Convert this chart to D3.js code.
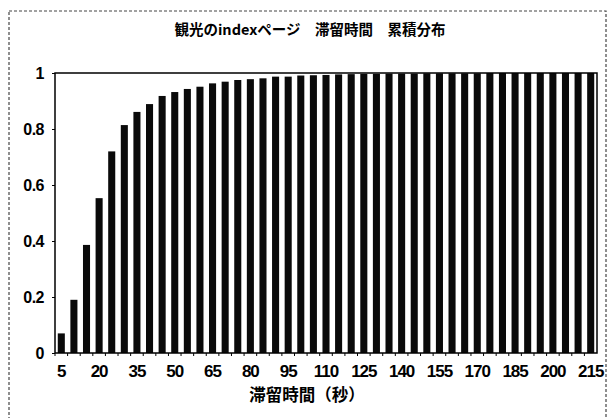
<!DOCTYPE html>
<html><head><meta charset="utf-8">
<script src="https://cdn.jsdelivr.net/npm/d3@7"></script>
<style>
body{margin:0;background:#fff;}
text{font-family:"Noto Sans CJK JP","Liberation Sans",sans-serif;}
</style></head>
<body><svg id="c" width="610" height="418"></svg>
<script>
const titleText = "観光のindexページ　滞留時間　累積分布";
const xTitle = "滞留時間（秒）";
const categories = [5,10,15,20,25,30,35,40,45,50,55,60,65,70,75,80,85,90,95,100,105,110,115,120,125,130,135,140,145,150,155,160,165,170,175,180,185,190,195,200,205,210,215];
const values = [0.07,0.19,0.386,0.553,0.72,0.814,0.861,0.889,0.918,0.932,0.943,0.951,0.963,0.969,0.975,0.978,0.981,0.987,0.987,0.991,0.992,0.993,0.995,0.996,0.997,0.997,0.998,0.998,0.998,0.999,0.999,0.999,0.999,0.999,1,1,1,1,1,1,1,1,1];
const xTickLabels = [5,20,35,50,65,80,95,110,125,140,155,170,185,200,215];
const yTicks = [0,0.2,0.4,0.6,0.8,1];

const svg = d3.select("#c");
const m = {l:55, r:597, t:73, b:353};

// outer dashed border
svg.append("rect").attr("x",9).attr("y",11).attr("width",597).attr("height",430)
  .attr("fill","none").attr("stroke","#444").attr("stroke-width",1.2).attr("stroke-dasharray","3,2");

const x = d3.scaleBand().domain(categories).range([m.l, m.r]).paddingInner(0.44).paddingOuter(0.22);
const y = d3.scaleLinear().domain([0,1]).range([m.b, m.t]);

svg.append("g").selectAll("rect").data(categories).join("rect")
  .attr("x", d=>x(d)).attr("width", x.bandwidth())
  .attr("y", (d,i)=>y(values[i])).attr("height",(d,i)=>y(0)-y(values[i]))
  .attr("fill","#0a0a0a");

// plot frame
svg.append("rect").attr("x",m.l).attr("y",m.t).attr("width",m.r-m.l).attr("height",m.b-m.t)
  .attr("fill","none").attr("stroke","#000").attr("stroke-width",1.5);

const numFont = "'Liberation Sans',Arial,sans-serif";
// y axis
const ya = svg.append("g").attr("transform",`translate(${m.l},0)`)
  .call(d3.axisLeft(y).tickValues(yTicks).tickSize(3).tickPadding(8).tickFormat(d=>d===0||d===1?String(d):d3.format(".1f")(d)));
ya.select(".domain").remove();
ya.selectAll("text").attr("font-size",16).attr("font-weight","bold").attr("fill","#000")
  .attr("letter-spacing","-0.5px").style("font-family",numFont);

// x axis
const xa = svg.append("g").attr("transform",`translate(0,${m.b})`)
  .call(d3.axisBottom(x).tickValues(xTickLabels).tickSize(0).tickPadding(12));
xa.select(".domain").remove();
xa.selectAll("text").attr("font-size",17).attr("font-weight","bold").attr("fill","#000")
  .attr("letter-spacing","-1px").style("font-family",numFont);
// small ticks at band boundaries
const step = x.step();
svg.append("g").selectAll("line").data(categories).join("line")
  .attr("x1", d=>x(d)-(step-x.bandwidth())/2).attr("x2", d=>x(d)-(step-x.bandwidth())/2)
  .attr("y1", m.b).attr("y2", m.b+3).attr("stroke","#000");

svg.append("text").attr("x",310).attr("y",35).attr("text-anchor","middle")
  .attr("font-size",14.5).attr("font-weight","bold").text(titleText);
svg.append("text").attr("x",307).attr("y",401).attr("text-anchor","middle")
  .attr("font-size",16.5).attr("font-weight","bold").text(xTitle);
</script></body></html>
